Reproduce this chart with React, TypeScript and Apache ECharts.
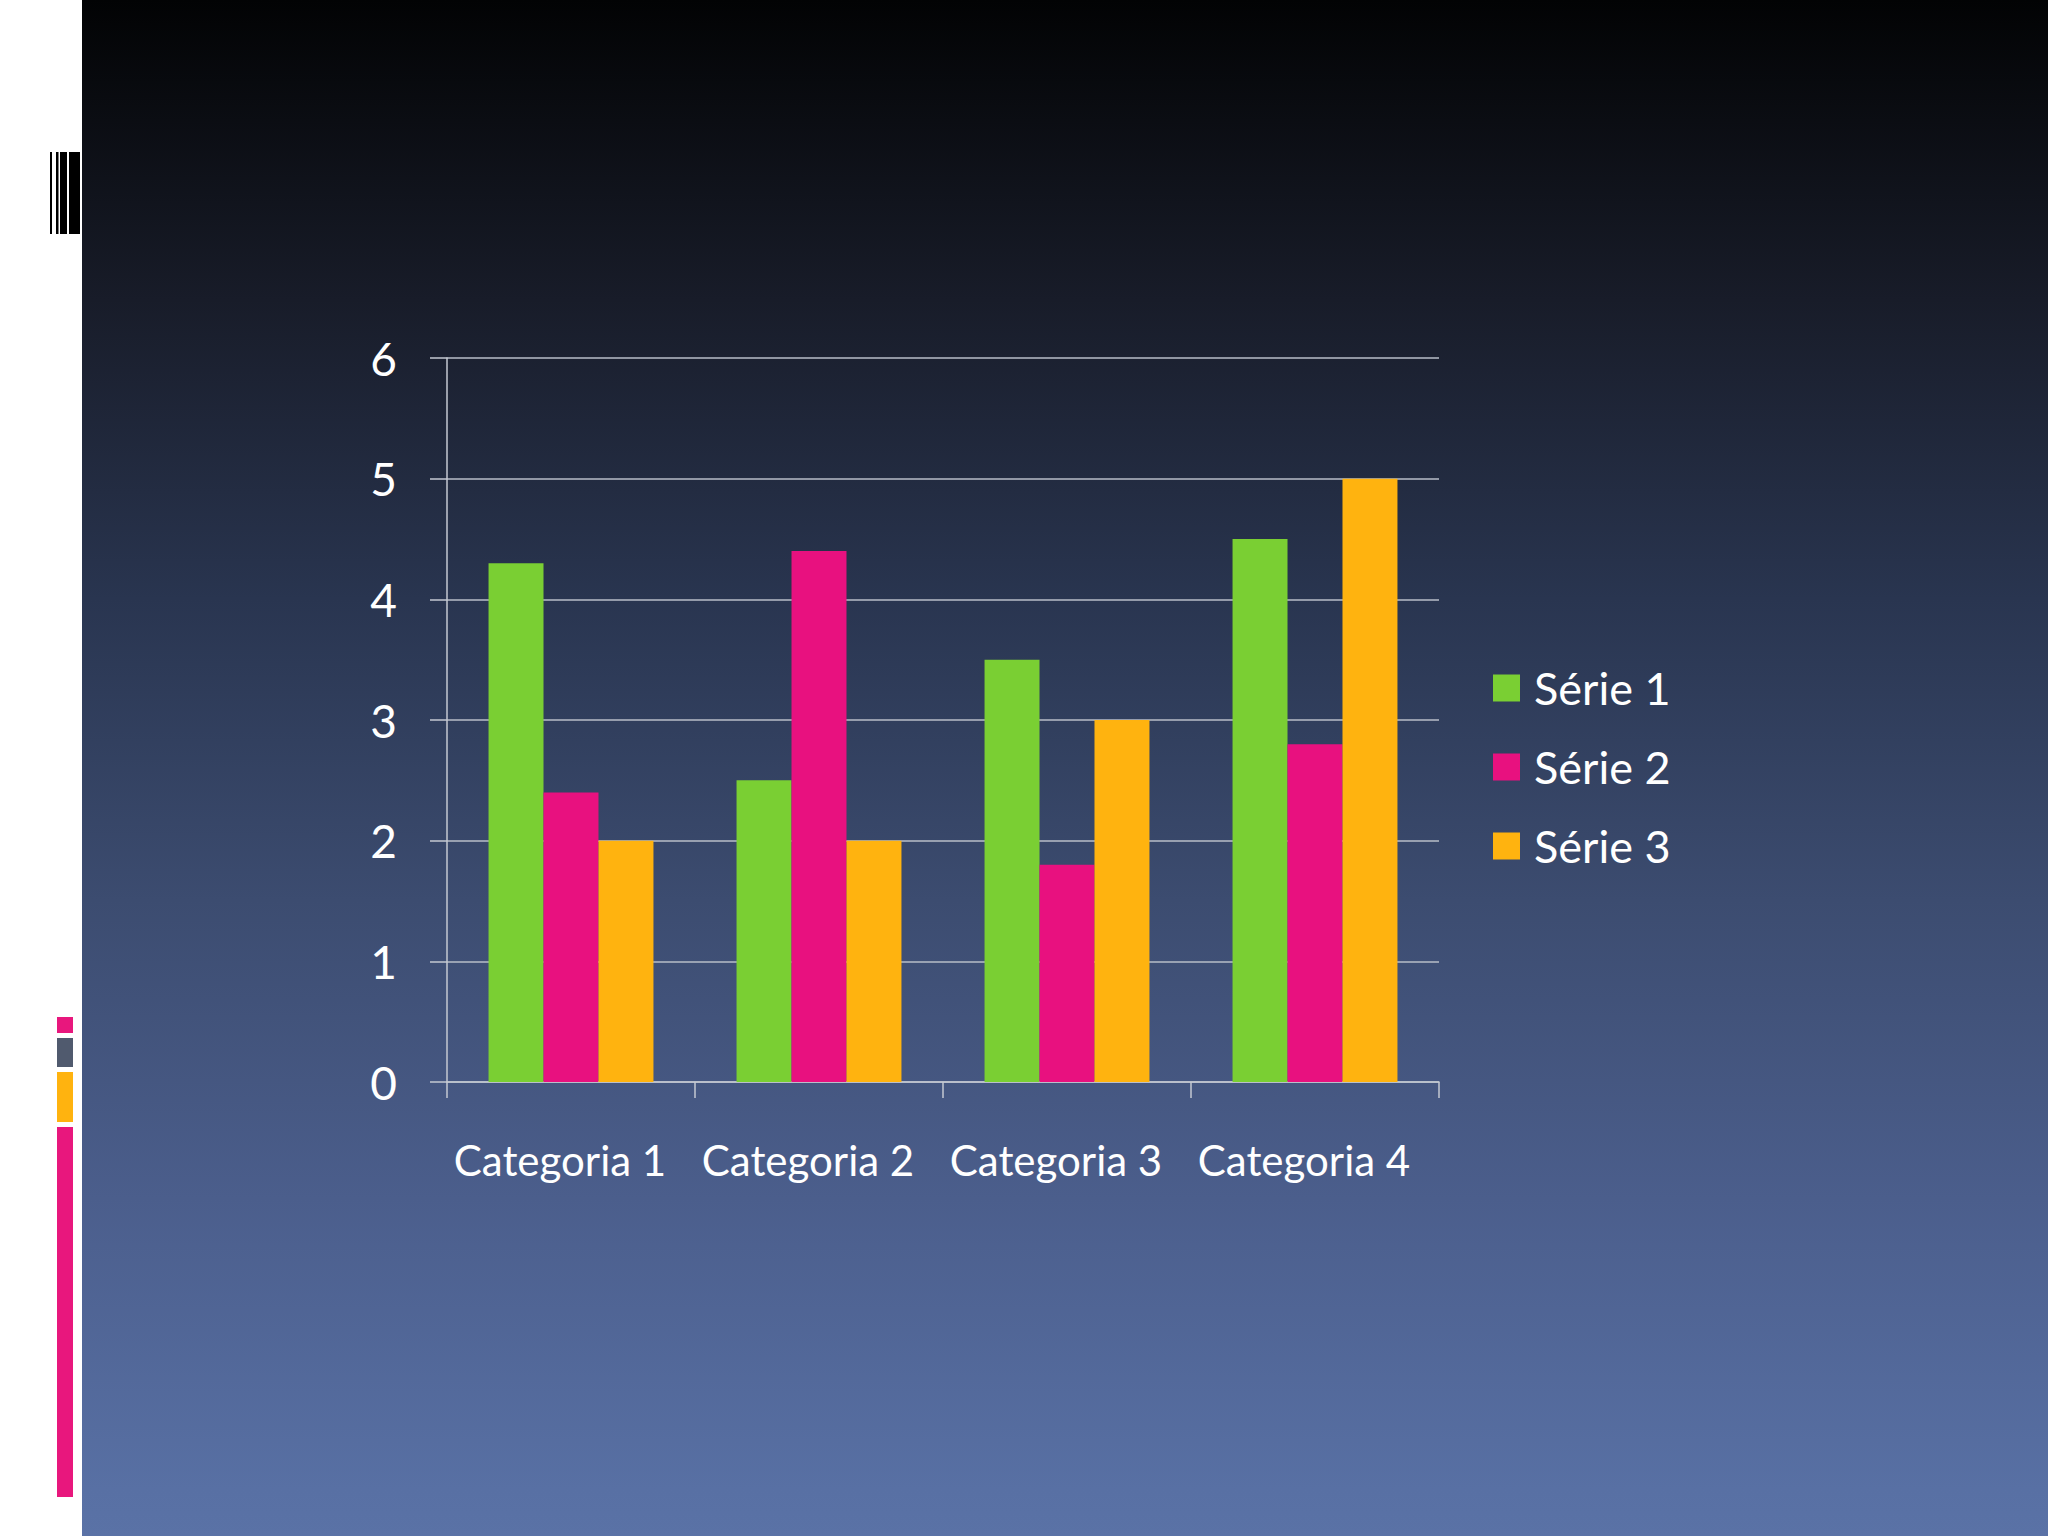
import React, { useEffect, useRef } from "react";
import * as echarts from "echarts";

const categories = ["Categoria 1", "Categoria 2", "Categoria 3", "Categoria 4"];
const serieNames = ["Série 1", "Série 2", "Série 3"];
const serie1 = [4.3, 2.5, 3.5, 4.5];
const serie2 = [2.4, 4.4, 1.8, 2.8];
const serie3 = [2, 2, 3, 5];
const serieColors = ["#7acf33", "#e8117f", "#ffb30f"];
const yTicks = [0, 1, 2, 3, 4, 5, 6];

const FONT = "Lato, 'Open Sans', sans-serif";

export default function App() {
  const ref = useRef<HTMLDivElement>(null);

  useEffect(() => {
    document.body.style.margin = "0";
    const chart = echarts.init(ref.current!, null, { renderer: "svg" });
    const values = [serie1, serie2, serie3];
    chart.setOption({
      animation: false,
      backgroundColor: new echarts.graphic.LinearGradient(0, 0, 0, 1, [
        { offset: 0, color: "#020304" },
        { offset: 0.195, color: "#181c29" },
        { offset: 0.39, color: "#293550" },
        { offset: 0.586, color: "#3c4c70" },
        { offset: 0.78, color: "#4b5e8c" },
        { offset: 0.97, color: "#5870a4" },
        { offset: 1, color: "#5a72a6" },
      ]),
      graphic: [
        { type: "rect", shape: { x: 0, y: 0, width: 82, height: 1536 }, style: { fill: "#ffffff" } },
        { type: "rect", shape: { x: 50, y: 152, width: 2, height: 82 }, style: { fill: "#000000" } },
        { type: "rect", shape: { x: 56, y: 152, width: 2.5, height: 82 }, style: { fill: "#000000" } },
        { type: "rect", shape: { x: 60, y: 152, width: 7, height: 82 }, style: { fill: "#000000" } },
        { type: "rect", shape: { x: 69, y: 152, width: 11, height: 82 }, style: { fill: "#000000" } },
        { type: "rect", shape: { x: 57, y: 1017, width: 16, height: 16 }, style: { fill: "#e8177d" } },
        { type: "rect", shape: { x: 57, y: 1038, width: 16, height: 29 }, style: { fill: "#505a6e" } },
        { type: "rect", shape: { x: 57, y: 1072, width: 16, height: 50 }, style: { fill: "#ffb30f" } },
        { type: "rect", shape: { x: 57, y: 1127, width: 16, height: 370 }, style: { fill: "#e8177d" } },
      ],
      legend: {
        orient: "vertical",
        left: 1488,
        top: 657,
        itemWidth: 27,
        itemHeight: 27,
        itemGap: 27,
        icon: "rect",
        data: serieNames,
        textStyle: {
          color: "#ffffff",
          fontSize: 45,
          fontFamily: FONT,
          lineHeight: 52,
          padding: [0, 0, 0, 9],
        },
      },
      grid: { left: 447, top: 358, width: 992, height: 724, containLabel: false },
      xAxis: {
        type: "category",
        data: categories,
        boundaryGap: true,
        axisLine: { show: true, lineStyle: { color: "#c4c9d2", width: 1.5 } },
        axisTick: { show: true, length: 16, lineStyle: { color: "#c4c9d2", width: 1.5 } },
        axisLabel: {
          color: "#ffffff",
          fontSize: 42,
          fontFamily: FONT,
          margin: 57,
          interval: 0,
          hideOverlap: false,
          padding: [0, 22, 0, 0],
        },
        splitLine: { show: false },
      },
      yAxis: {
        type: "value",
        min: yTicks[0],
        max: yTicks[yTicks.length - 1],
        interval: 1,
        axisLine: { show: true, lineStyle: { color: "#c4c9d2", width: 1.5 } },
        axisTick: { show: true, inside: false, length: 17, lineStyle: { color: "#c4c9d2", width: 1.5 } },
        axisLabel: { color: "#ffffff", fontSize: 46, fontFamily: FONT, margin: 50 },
        splitLine: { show: true, lineStyle: { color: "#b8bec9", width: 1.5 } },
      },
      series: serieNames.map((name, i) => ({
        name,
        type: "bar",
        data: values[i],
        barGap: "0%",
        barCategoryGap: "33.5%",
        itemStyle: { color: serieColors[i] },
      })),
    });
    return () => chart.dispose();
  }, []);

  return (
    <div
      ref={ref}
      style={{ position: "fixed", left: 0, top: 0, width: 2048, height: 1536 }}
    />
  );
}
